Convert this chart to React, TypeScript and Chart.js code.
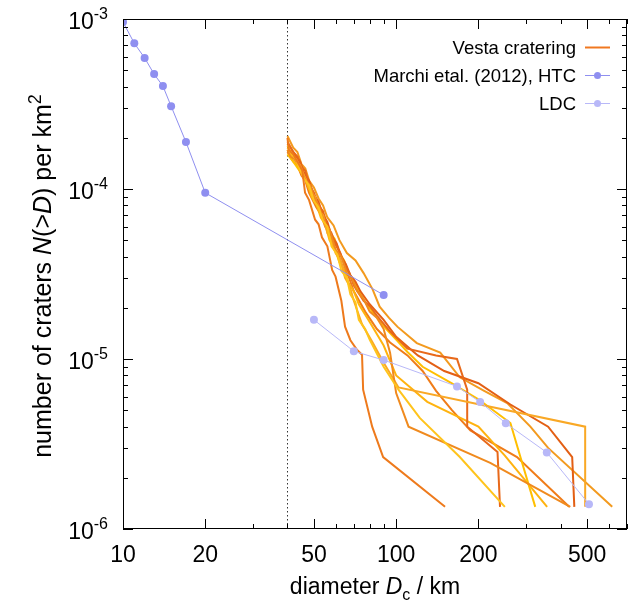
import React, { useEffect, useRef } from 'react';
import { Chart, registerables } from 'chart.js';

Chart.register(...registerables);

const FAMILY = "'Liberation Sans', Arial, Helvetica, sans-serif";

// axis settings
const xMin = 10;
const xMax = 700;
const yMin = 1e-6;
const yMax = 1e-3;
const xTickLabels = [10, 20, 50, 100, 200, 500];
const yTickExps = [-3, -4, -5, -6];
const cutoffD = 40;

// Marchi et al. (2012), HTC
const htcD = [10, 11, 12, 13, 14, 15, 17, 20, 90];
const htcN = [9.6e-4, 7.2e-4, 5.9e-4, 4.74e-4, 4.03e-4, 3.07e-4, 1.89e-4, 9.5e-5, 2.38e-5];

// LDC
const ldcD = [50, 70, 90, 167, 203, 252, 356, 508];
const ldcN = [1.7e-5, 1.11e-5, 9.86e-6, 6.9e-6, 5.58e-6, 4.19e-6, 2.82e-6, 1.4e-6];

// Vesta cratering runs: [diameter km, N(>D) per km^2]
const vesta1: [number, number][] = [[40, 2.0e-4], [40.5, 1.7e-4], [42, 1.6e-4], [45.3, 1.29e-4], [46.4, 9.5e-5], [48, 8.6e-5], [50.5, 6.6e-5], [52, 6.2e-5], [53.5, 5.2e-5], [56, 4.6e-5], [58.3, 3.34e-5], [60, 3.05e-5], [63, 2.2e-5], [65, 1.55e-5], [68, 1.29e-5], [72, 1.13e-5], [75, 1.06e-5], [75.7, 6.6e-6], [81.7, 4e-6], [89.6, 2.65e-6], [151, 1.35e-6]];
const vesta2: [number, number][] = [[40, 1.8e-4], [41.5, 1.6e-4], [43, 1.5e-4], [44.5, 1.3e-4], [46, 1.15e-4], [48, 1.05e-4], [50, 8.5e-5], [52, 7.8e-5], [54, 6.5e-5], [56, 6e-5], [58, 4.6e-5], [61, 4.1e-5], [63, 3.3e-5], [66, 3e-5], [68, 2.4e-5], [71, 2.15e-5], [73, 1.7e-5], [77, 1.5e-5], [80, 1.3e-5], [90, 9e-6], [102, 6.6e-6], [122, 4.5e-6], [171, 2.65e-6], [250, 1.35e-6]];
const vesta3: [number, number][] = [[40, 1.7e-4], [41, 1.55e-4], [42.5, 1.5e-4], [44, 1.4e-4], [45, 1.25e-4], [47, 1.1e-4], [48.5, 1.05e-4], [50, 9e-5], [52, 8e-5], [55, 6.2e-5], [57, 5.8e-5], [60, 4.4e-5], [63, 4.0e-5], [66, 3.2e-5], [69, 2.95e-5], [72, 2.5e-5], [76, 2.25e-5], [80, 1.9e-5], [85, 1.75e-5], [90, 1.5e-5], [95, 1.09e-5], [100, 6.3e-6], [111, 4e-6], [221, 2.45e-6], [434, 1.35e-6]];
const vesta4: [number, number][] = [[40, 1.75e-4], [41.5, 1.6e-4], [43, 1.45e-4], [44.5, 1.38e-4], [46, 1.2e-4], [49, 9.5e-5], [50.5, 9e-5], [52, 7.5e-5], [54, 7e-5], [56, 5.5e-5], [58, 5.1e-5], [60, 4.2e-5], [62.5, 3.8e-5], [65, 3.0e-5], [67.5, 2.7e-5], [70, 2.2e-5], [75, 1.6e-5], [82, 1.25e-5], [90, 9.5e-6], [102, 6.8e-6], [492, 4e-6], [492, 1.35e-6]];
const vesta5: [number, number][] = [[40, 1.9e-4], [42, 1.65e-4], [43.5, 1.55e-4], [45, 1.35e-4], [46.5, 1.28e-4], [48, 1.05e-4], [50, 9.5e-5], [52, 8e-5], [54, 7.4e-5], [56, 6e-5], [58, 5.5e-5], [60, 4.7e-5], [62.5, 4.2e-5], [65, 3.5e-5], [67.5, 3.2e-5], [70, 2.7e-5], [76, 2.2e-5], [80, 2.05e-5], [85, 1.8e-5], [95, 1.45e-5], [110, 1.15e-5], [140, 1.05e-5], [167, 1.0e-5], [182, 6.6e-6], [182, 4e-6], [235, 2.84e-6], [240, 1.35e-6]];
const vesta6: [number, number][] = [[40, 1.85e-4], [41.5, 1.7e-4], [43, 1.55e-4], [44.5, 1.45e-4], [46, 1.25e-4], [48, 1.12e-4], [50, 9.2e-5], [52, 8.4e-5], [54, 7e-5], [56, 6.4e-5], [58, 5.3e-5], [60.5, 4.8e-5], [63, 4e-5], [65.5, 3.6e-5], [68, 3.1e-5], [71, 2.85e-5], [74, 2.5e-5], [80, 2.1e-5], [90, 1.7e-5], [100, 1.35e-5], [120, 1.05e-5], [150, 8.5e-6], [200, 7.2e-6], [262, 5.4e-6], [360, 4e-6], [441, 2.65e-6], [449, 1.35e-6]];
const vesta7: [number, number][] = [[40, 2.05e-4], [42, 1.75e-4], [43.5, 1.65e-4], [45, 1.4e-4], [46.5, 1.32e-4], [48, 1.12e-4], [50, 1.02e-4], [52, 8.8e-5], [54, 8e-5], [56, 6.8e-5], [59, 6.1e-5], [62, 5e-5], [66, 4.2e-5], [71, 3.8e-5], [76, 3.2e-5], [82, 2.57e-5], [87, 2.03e-5], [94, 1.75e-5], [101, 1.55e-5], [119, 1.24e-5], [145, 1.09e-5], [171, 7.8e-6], [210, 6.5e-6], [255, 5.5e-6], [310, 4e-6], [360, 3e-6], [618, 1.35e-6]];
const vesta8: [number, number][] = [[40, 1.6e-4], [42, 1.45e-4], [44, 1.3e-4], [46, 1.2e-4], [48, 1e-4], [50, 9.2e-5], [52, 7.8e-5], [54.5, 7e-5], [57, 5.6e-5], [59.5, 5.1e-5], [62, 4.2e-5], [64.5, 3.8e-5], [67, 3.2e-5], [69.5, 2.95e-5], [72, 2.6e-5], [78, 2.1e-5], [85, 1.75e-5], [92, 1.5e-5], [100, 1.3e-5], [110, 1.1e-5], [125, 9e-6], [160, 7.2e-6], [200, 5.8e-6], [262, 4.2e-6], [285, 2.65e-6], [323, 1.35e-6]];
const vesta9: [number, number][] = [[40, 1.7e-4], [41.5, 1.58e-4], [43, 1.45e-4], [44.5, 1.3e-4], [46, 1.15e-4], [47.5, 1.08e-4], [49, 9e-5], [51, 8.2e-5], [53, 6.8e-5], [55, 6.2e-5], [57, 5e-5], [59.5, 4.5e-5], [62, 3.7e-5], [64.5, 3.35e-5], [67, 2.8e-5], [70, 2.5e-5], [73, 2.1e-5], [80, 1.65e-5], [90, 1.2e-5], [100, 8e-6], [130, 5.6e-6], [200, 4e-6], [250, 2.7e-6], [357, 1.35e-6]];
const vesta10: [number, number][] = [[40, 1.65e-4], [42, 1.45e-4], [43.5, 1.38e-4], [45, 1.2e-4], [46.5, 1.12e-4], [48, 9.5e-5], [51, 7.8e-5], [53, 7.1e-5], [55, 6e-5], [57, 5.5e-5], [59, 4.5e-5], [61.5, 4.1e-5], [64, 3.4e-5], [67, 3.05e-5], [70, 2.5e-5], [77, 1.9e-5], [85, 1.5e-5], [95, 1.25e-5], [110, 1.05e-5], [125, 8.5e-6], [140, 6.5e-6], [160, 5e-6], [187, 3.8e-6], [277, 2.65e-6], [430, 1.35e-6]];

const vestaRuns = [vesta1, vesta2, vesta3, vesta4, vesta5, vesta6, vesta7, vesta8, vesta9, vesta10];
const vestaColors = ['#ee7a1c', '#ffc41c', '#f08a1e', '#f9a825', '#e8691a', '#e35f14', '#f39a1e', '#ffbf00', '#ffb30f', '#f07c18'];

const legendLabels = ['Vesta cratering', 'Marchi etal. (2012), HTC', 'LDC'];
const vestaLegendColor = '#f07820';
const htcColor = '#8f8ff0';
const ldcColor = '#b8b8f8';

type Part = { t: string; it?: boolean; sup?: boolean; sub?: boolean };

function fontFor(p: Part, size: number) {
  const s = p.sup || p.sub ? Math.round(size * 0.7) : size;
  return `${p.it ? 'italic ' : ''}${s}px ${FAMILY}`;
}

function drawRich(ctx: CanvasRenderingContext2D, parts: Part[], x: number, y: number, size: number, align: 'left' | 'center' | 'right') {
  let w = 0;
  const ws: number[] = [];
  for (const p of parts) {
    ctx.font = fontFor(p, size);
    const m = ctx.measureText(p.t).width;
    ws.push(m);
    w += m;
  }
  let cx = align === 'center' ? x - w / 2 : align === 'right' ? x - w : x;
  ctx.textAlign = 'left';
  ctx.textBaseline = 'alphabetic';
  parts.forEach((p, i) => {
    ctx.font = fontFor(p, size);
    const dy = p.sup ? -size * 0.42 : p.sub ? size * 0.25 : 0;
    ctx.fillText(p.t, cx, y + dy);
    cx += ws[i];
  });
}

const decor = {
  id: 'decor',
  beforeDraw(chart: any) {
    const { ctx } = chart;
    ctx.save();
    ctx.fillStyle = '#ffffff';
    ctx.fillRect(0, 0, chart.width, chart.height);
    ctx.restore();
  },
  beforeDatasetsDraw(chart: any) {
    const { ctx, chartArea: a, scales } = chart;
    const px = Math.round(scales.x.getPixelForValue(cutoffD)) + 0.5;
    ctx.save();
    ctx.strokeStyle = '#333';
    ctx.lineWidth = 1;
    ctx.setLineDash([1.5, 2.5]);
    ctx.beginPath();
    ctx.moveTo(px, a.top);
    ctx.lineTo(px, a.bottom);
    ctx.stroke();
    ctx.restore();
  },
  afterDraw(chart: any) {
    const { ctx, chartArea: a, scales } = chart;
    const xs = scales.x;
    const ys = scales.y;
    ctx.save();
    ctx.strokeStyle = '#000';
    ctx.fillStyle = '#000';
    ctx.lineWidth = 1;
    // border
    ctx.strokeRect(a.left + 0.5, a.top + 0.5, a.right - a.left - 1, a.bottom - a.top - 1);
    // x ticks
    ctx.beginPath();
    for (let k = 1; k <= 3; k++) {
      for (let m = 1; m <= 9; m++) {
        const v = m * Math.pow(10, k);
        if (v < xMin || v > xMax) continue;
        const major = xTickLabels.indexOf(v) >= 0;
        const len = major ? 10 : 5;
        const px = Math.round(xs.getPixelForValue(v)) + 0.5;
        ctx.moveTo(px, a.bottom);
        ctx.lineTo(px, a.bottom - len);
        ctx.moveTo(px, a.top);
        ctx.lineTo(px, a.top + len);
      }
    }
    // y ticks
    for (let k = -6; k <= -3; k++) {
      for (let m = 1; m <= 9; m++) {
        const v = m * Math.pow(10, k);
        if (v < yMin * 0.999 || v > yMax * 1.001) continue;
        const len = m === 1 ? 10 : 5;
        const py = Math.round(ys.getPixelForValue(v)) + 0.5;
        ctx.moveTo(a.left, py);
        ctx.lineTo(a.left + len, py);
        ctx.moveTo(a.right, py);
        ctx.lineTo(a.right - len, py);
      }
    }
    ctx.stroke();

    // x tick labels
    for (const v of xTickLabels) {
      const px = xs.getPixelForValue(v);
      drawRich(ctx, [{ t: String(v) }], px, 562, 23, 'center');
    }
    // y tick labels
    for (const e of yTickExps) {
      const py = ys.getPixelForValue(Math.pow(10, e));
      drawRich(ctx, [{ t: '10' }, { t: String(e), sup: true }], 108, py + 10, 23, 'right');
    }

    // axis titles
    drawRich(ctx, [{ t: 'diameter ' }, { t: 'D', it: true }, { t: 'c', sub: true }, { t: ' / km' }], (a.left + a.right) / 2, 594, 23, 'center');
    ctx.save();
    ctx.translate(51, (a.top + a.bottom) / 2 + 2);
    ctx.rotate(-Math.PI / 2);
    drawRich(ctx, [
      { t: 'number of craters ' },
      { t: 'N', it: true },
      { t: '(>' },
      { t: 'D', it: true },
      { t: ') per km' },
      { t: '2', sup: true },
    ], 0, 0, 25, 'center');
    ctx.restore();

    // legend
    const rows = [47, 75, 103];
    const tx = 576;
    const l0 = 585;
    const l1 = 610;
    ctx.fillStyle = '#000';
    legendLabels.forEach((lab, i) => {
      drawRich(ctx, [{ t: lab }], tx, rows[i] + 6.5, 18.5, 'right');
    });
    ctx.lineWidth = 2;
    ctx.strokeStyle = vestaLegendColor;
    ctx.beginPath();
    ctx.moveTo(l0, rows[0] + 0.5);
    ctx.lineTo(l1, rows[0] + 0.5);
    ctx.stroke();
    [htcColor, ldcColor].forEach((c, i) => {
      const yy = rows[i + 1] + 0.5;
      ctx.lineWidth = 1;
      ctx.strokeStyle = c;
      ctx.beginPath();
      ctx.moveTo(l0, yy);
      ctx.lineTo(l1, yy);
      ctx.stroke();
      ctx.fillStyle = c;
      ctx.beginPath();
      ctx.arc((l0 + l1) / 2, yy, 3.5, 0, Math.PI * 2);
      ctx.fill();
    });
    ctx.restore();
  },
};

export default function App() {
  const ref = useRef<HTMLCanvasElement | null>(null);
  useEffect(() => {
    if (!ref.current) return;
    const datasets: any[] = [];
    datasets.push({
      label: legendLabels[1],
      data: htcD.map((d, i) => ({ x: d, y: htcN[i] })),
      borderColor: htcColor,
      backgroundColor: htcColor,
      borderWidth: 1,
      pointRadius: 4,
      pointBorderWidth: 0,
      showLine: true,
      order: 1,
    });
    datasets.push({
      label: legendLabels[2],
      data: ldcD.map((d, i) => ({ x: d, y: ldcN[i] })),
      borderColor: ldcColor,
      backgroundColor: ldcColor,
      borderWidth: 1,
      pointRadius: 4,
      pointBorderWidth: 0,
      showLine: true,
      order: 1,
    });
    vestaRuns.forEach((run, i) => {
      datasets.push({
        label: legendLabels[0],
        data: run.map(([d, n]) => ({ x: d, y: n })),
        borderColor: vestaColors[i],
        backgroundColor: vestaColors[i],
        borderWidth: 2,
        pointRadius: 0,
        showLine: true,
        order: 2,
      });
    });
    const chart = new Chart(ref.current, {
      type: 'scatter',
      data: { datasets },
      options: {
        animation: false,
        responsive: true,
        maintainAspectRatio: false,
        layout: { padding: { left: 123, right: 9, top: 19, bottom: 73 } },
        plugins: { legend: { display: false }, tooltip: { enabled: false }, title: { display: false } },
        scales: {
          x: { type: 'logarithmic', min: xMin, max: xMax, display: false },
          y: { type: 'logarithmic', min: yMin, max: yMax, display: false },
        },
        elements: { line: { tension: 0 } },
      },
      plugins: [decor],
    } as any);
    return () => chart.destroy();
  }, []);
  return (
    <div style={{ position: 'absolute', left: 0, top: 0, width: 636, height: 602 }}>
      <canvas ref={ref} />
    </div>
  );
}
